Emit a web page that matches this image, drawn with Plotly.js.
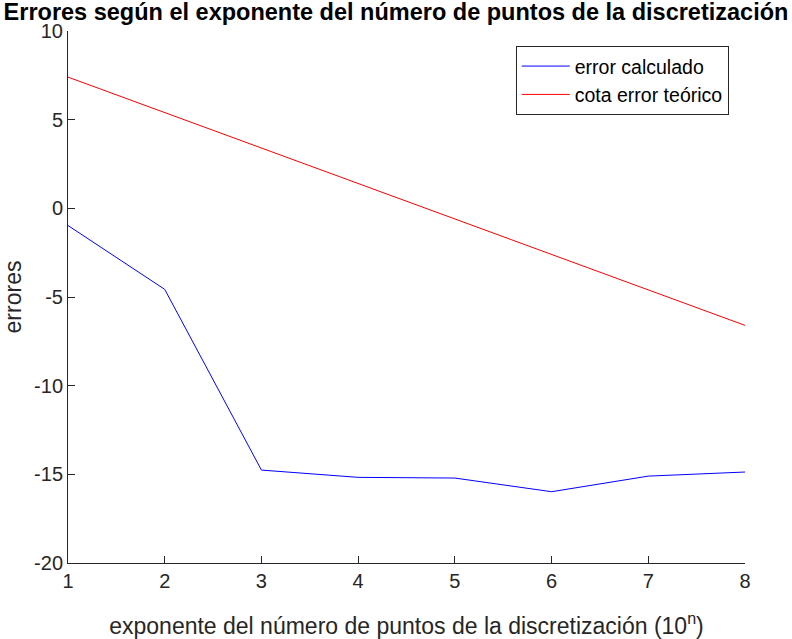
<!DOCTYPE html>
<html>
<head>
<meta charset="utf-8">
<script src="https://cdn.plot.ly/plotly-3.0.1.min.js"></script>
<style>html,body{margin:0;padding:0;background:#fff;}#chart{width:792px;height:639px;}</style>
</head>
<body>
<div id="chart"></div>
<script>
const exponents = [1, 2, 3, 4, 5, 6, 7, 8];
const errorCalculado = [-0.97, -4.57, -14.76, -15.17, -15.21, -15.98, -15.10, -14.87];
const cotaErrorTeorico = [7.4, 5.4, 3.4, 1.4, -0.6, -2.6, -4.6, -6.6];
const xTicks = [1, 2, 3, 4, 5, 6, 7, 8];
const yTicks = [-20, -15, -10, -5, 0, 5, 10];

const font = "Liberation Sans, Arial, Helvetica, sans-serif";
const axisColor = "#262626";

const traces = [
  {x: exponents, y: errorCalculado, type: "scatter", mode: "lines", name: "error calculado",
   line: {color: "#0000ff", width: 1}},
  {x: exponents, y: cotaErrorTeorico, type: "scatter", mode: "lines", name: "cota error teórico",
   line: {color: "#ff0000", width: 1}}
];

const layout = {
  width: 792, height: 639,
  margin: {l: 68, r: 47, t: 31, b: 76, pad: 0},
  paper_bgcolor: "#fff", plot_bgcolor: "#fff",
  font: {family: font, color: axisColor, size: 20},
  title: {text: "<b>Errores según el exponente del número de puntos de la discretización</b>",
    font: {family: font, size: 23.5, color: "#000"}, x: 0.5, xref: "container", xanchor: "center", y: 0.994, yanchor: "top"},
  xaxis: {range: [1, 8], tickvals: xTicks, ticktext: xTicks.map(String), ticks: "inside", ticklen: 7,
    tickcolor: axisColor, showline: true, linecolor: axisColor, linewidth: 1, showgrid: false, zeroline: false,
    tickfont: {size: 20, color: axisColor}, automargin: false,
    title: {text: "exponente del número de puntos de la discretización (10<sup>n</sup>)", font: {size: 23, color: axisColor}, standoff: 26}},
  yaxis: {range: [-20, 10], tickvals: yTicks, ticktext: yTicks.map(String), ticks: "inside", ticklen: 7,
    tickcolor: axisColor, showline: true, linecolor: axisColor, linewidth: 1, showgrid: false, zeroline: false,
    tickfont: {size: 20, color: axisColor}, automargin: false,
    title: {text: "errores", font: {size: 23, color: axisColor}, standoff: 7}},
  showlegend: true,
  legend: {x: 0.976, xanchor: "right", y: 0.972, yanchor: "top", bgcolor: "#fff", itemwidth: 48,
    bordercolor: "#262626", borderwidth: 1, font: {size: 19.5, color: "#000"}, tracegroupgap: 0}
};

Plotly.newPlot("chart", traces, layout, {displayModeBar: false, staticPlot: true});
</script>
</body>
</html>
